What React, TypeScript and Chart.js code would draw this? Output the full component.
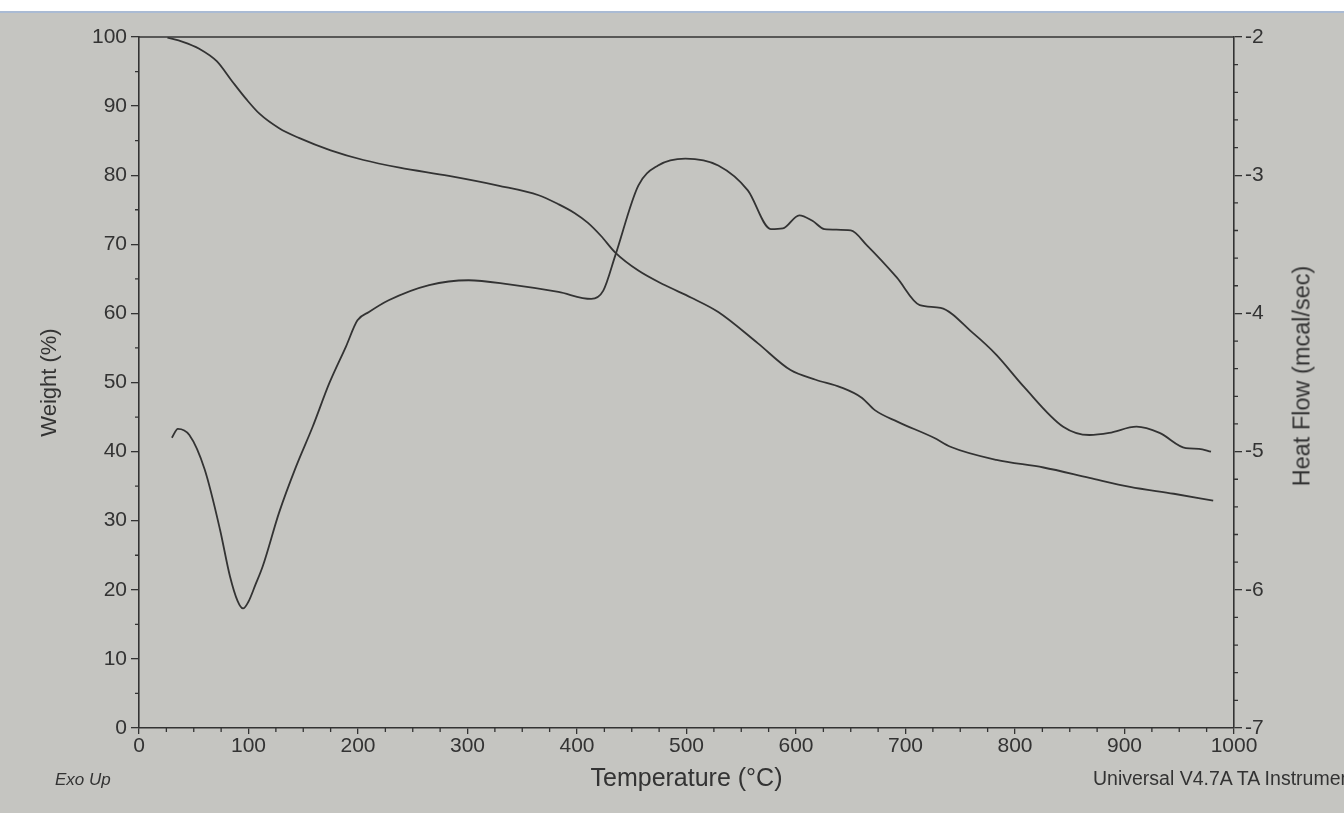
import React, { useEffect, useRef } from 'react';
import { Chart, registerables } from 'chart.js';

Chart.register(...registerables);

// Weight curve (left axis, %)
const weightTemp = [26, 40, 55, 71, 85, 98, 110, 128, 146, 175, 205, 238, 283, 328, 365, 383, 398, 410, 422, 435, 456, 480, 504, 529, 565, 595, 618, 641, 660, 672, 693, 726, 741, 783, 826, 868, 905, 945, 981];
const weightValues = [99.9, 99.3, 98.3, 96.5, 93.6, 91.0, 88.9, 86.8, 85.4, 83.6, 82.2, 81.1, 79.9, 78.5, 77.1, 75.8, 74.5, 73.1, 71.2, 68.8, 66.2, 64.1, 62.3, 60.2, 55.7, 51.8, 50.4, 49.3, 47.8, 46.0, 44.3, 42.0, 40.7, 38.8, 37.7, 36.2, 34.9, 33.9, 32.9];

// Heat flow curve (right axis, mcal/sec)
const heatTemp = [30, 35.5, 46, 60, 74, 83, 90, 95, 100, 106, 113, 128, 143.5, 158.6, 173.8, 189, 199.5, 210, 228, 265, 301, 338, 383, 413, 424, 435, 456, 474, 499, 529, 556, 577, 588, 603, 615, 626, 650, 665, 692, 713, 732, 762, 783, 808, 844, 868, 886, 911, 932, 956, 968, 979];
const heatValues = [-4.9, -4.835, -4.88, -5.13, -5.565, -5.9, -6.08, -6.135, -6.085, -5.97, -5.83, -5.44, -5.107, -4.82, -4.505, -4.24, -4.05, -3.99, -3.905, -3.795, -3.76, -3.79, -3.845, -3.895, -3.835, -3.58, -3.075, -2.93, -2.88, -2.93, -3.11, -3.39, -3.385, -3.29, -3.33, -3.39, -3.4, -3.51, -3.74, -3.94, -3.96, -4.145, -4.3, -4.53, -4.82, -4.88, -4.865, -4.82, -4.865, -4.975, -4.98, -5.0];

const ink = '#333333';
const fontFamily = '"Liberation Sans", Arial, sans-serif';

// short minor ticks + top frame line
const frameTicks = {
    id: 'frameTicks',
    afterDraw(chart: any) {
        const { ctx, chartArea, scales } = chart;
        ctx.save();
        ctx.strokeStyle = ink;
        ctx.lineWidth = 1.3;
        ctx.beginPath();
        for (let v = 0; v <= 1000; v += 25) {
            if (v % 100 === 0) continue;
            const px = scales.x.getPixelForValue(v);
            ctx.moveTo(px, chartArea.bottom);
            ctx.lineTo(px, chartArea.bottom + 4);
        }
        for (let v = 0; v <= 100; v += 5) {
            if (v % 10 === 0) continue;
            const py = scales.y.getPixelForValue(v);
            ctx.moveTo(chartArea.left, py);
            ctx.lineTo(chartArea.left - 4, py);
        }
        for (let i = 0; i <= 25; i++) {
            if (i % 5 === 0) continue;
            const py = scales.y1.getPixelForValue(-7 + i * 0.2);
            ctx.moveTo(chartArea.right, py);
            ctx.lineTo(chartArea.right + 4, py);
        }
        ctx.stroke();
        ctx.lineWidth = 1.6;
        ctx.beginPath();
        ctx.moveTo(chartArea.left, chartArea.top);
        ctx.lineTo(chartArea.right, chartArea.top);
        ctx.stroke();
        ctx.restore();
    }
};

const App: React.FC = () => {
    const canvasRef = useRef<HTMLCanvasElement>(null);

    useEffect(() => {
        if (!canvasRef.current) return;
        const tickFont = { family: fontFamily, size: 21 };
        const plain = (value: any) => String(value);
        const axisGrid = { display: true, drawOnChartArea: false, drawTicks: true, tickLength: 8, color: ink, lineWidth: 1.3 };
        const axisBorder = { display: true, color: ink, width: 1.6 };

        const chart = new Chart(canvasRef.current, {
            type: 'line',
            data: {
                datasets: [
                    {
                        label: 'Weight',
                        data: weightTemp.map((t, i) => ({ x: t, y: weightValues[i] })),
                        yAxisID: 'y',
                        borderColor: ink,
                        borderWidth: 1.8,
                        pointRadius: 0,
                        cubicInterpolationMode: 'monotone',
                    },
                    {
                        label: 'Heat Flow',
                        data: heatTemp.map((t, i) => ({ x: t, y: heatValues[i] })),
                        yAxisID: 'y1',
                        borderColor: ink,
                        borderWidth: 1.8,
                        pointRadius: 0,
                        cubicInterpolationMode: 'monotone',
                    },
                ],
            },
            options: {
                animation: false,
                responsive: true,
                maintainAspectRatio: false,
                layout: { padding: { top: 37, left: 0, right: 0, bottom: 0 } },
                plugins: { legend: { display: false }, tooltip: { enabled: false } },
                scales: {
                    x: {
                        type: 'linear',
                        min: 0,
                        max: 1000,
                        afterFit: (s: any) => { s.height = 85; },
                        ticks: { stepSize: 100, autoSkip: false, maxRotation: 0, font: tickFont, color: ink, padding: 0, callback: plain },
                        grid: { ...axisGrid, tickLength: 6 },
                        border: axisBorder,
                        title: {
                            display: true,
                            text: 'Temperature (°C)',
                            font: { family: fontFamily, size: 25 },
                            color: ink,
                            padding: { top: 0, bottom: 19 },
                        },
                    },
                    y: {
                        position: 'left',
                        min: 0,
                        max: 100,
                        afterFit: (s: any) => { s.width = 139; },
                        ticks: { stepSize: 10, autoSkip: false, font: tickFont, color: ink, padding: 4, callback: plain },
                        grid: axisGrid,
                        border: axisBorder,
                        title: {
                            display: true,
                            text: 'Weight (%)',
                            font: { family: fontFamily, size: 22 },
                            color: ink,
                            padding: { top: 37, bottom: 0 },
                        },
                    },
                    y1: {
                        position: 'right',
                        min: -7,
                        max: -2,
                        afterFit: (s: any) => { s.width = 110; },
                        ticks: { stepSize: 1, autoSkip: false, font: tickFont, color: ink, padding: 3, callback: plain },
                        grid: axisGrid,
                        border: axisBorder,
                    },
                },
            },
            plugins: [frameTicks],
        });

        return () => {
            chart.destroy();
        };
    }, []);

    return (
        <div style={{ position: 'fixed', inset: 0, background: '#c5c5c1', overflow: 'hidden', fontFamily }}>
            <div style={{ position: 'absolute', left: 0, top: 0, right: 0, height: 11, background: '#ffffff' }} />
            <div style={{ position: 'absolute', left: 0, top: 11, right: 0, height: 2, background: '#aabbd4' }} />
            <canvas ref={canvasRef}></canvas>
            <div style={{
                position: 'absolute', left: 1302, top: 376, transform: 'translate(-50%, -50%) rotate(-90deg)',
                fontSize: 23.5, color: ink, whiteSpace: 'nowrap'
            }}>Heat Flow (mcal/sec)</div>
            <div style={{ position: 'absolute', left: 55, top: 770, fontSize: 17, fontStyle: 'italic', color: ink, whiteSpace: 'nowrap' }}>Exo Up</div>
            <div style={{ position: 'absolute', left: 1093, top: 767, fontSize: 19.5, color: ink, whiteSpace: 'nowrap' }}>Universal V4.7A TA Instruments</div>
        </div>
    );
};

export default App;
